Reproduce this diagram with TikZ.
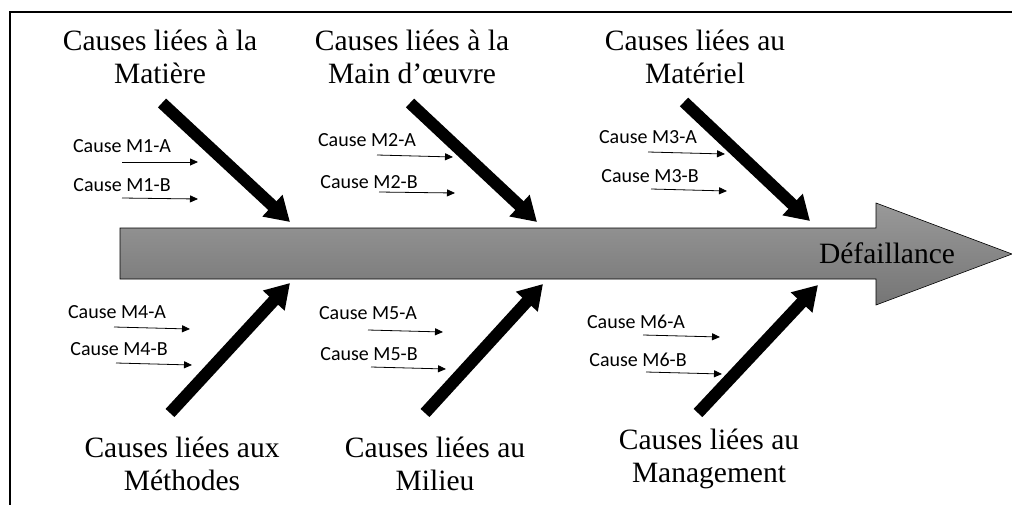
\documentclass[tikz,border=0pt]{standalone}
\usepackage{fontspec}
\newfontfamily\causefont{Carlito}
\newfontfamily\titrefont{Liberation Serif}
\usetikzlibrary{arrows.meta,positioning}

\begin{document}
\begin{tikzpicture}[x=1pt, y=-1pt,
    titre/.style={align=center, inner sep=0pt, font=\titrefont\fontsize{29.5}{33}\selectfont},
    cause/.style={inner sep=0pt, font=\causefont\fontsize{20}{24}\selectfont},
    fleche/.style={line width=12pt, -{Triangle[length=24pt,width=28pt]}},
    petite/.style={line width=0.8pt, -{Triangle[length=8pt,width=7pt]}}]
                        \useasboundingbox (0,0) rectangle (1012,504);
                        \draw[line width=2pt] (10,510) -- (10,12) -- (1020,12);

                        % arete centrale
                        \path[draw=black, line width=0.6pt, top color=black!40, bottom color=black!54]
                        (120,228) -- (876,228) -- (876,203) -- (1012,254) -- (876,305) -- (876,279) -- (120,279) -- cycle;
                        \node[titre] (def) at (887,253) {Défaillance};

                        \node[titre] (t1) at (160,57) {Causes liées à la\\Matière};
                        \node[titre] (t2) at (412,57) {Causes liées à la\\Main d’œuvre};
                        \node[titre] (t3) at (695,57) {Causes liées au\\Matériel};
                        \node[titre] (t4) at (182,464) {Causes liées aux\\Méthodes};
                        \node[titre] (t5) at (435,464) {Causes liées au\\Milieu};
                        \node[titre] (t6) at (709,459) {Causes liées au\\Management};

                        \coordinate (s1) at (162,103);  \coordinate (e1) at (290,222);
                        \coordinate (s2) at (410,103);  \coordinate (e2) at (537,222);
                        \coordinate (s3) at (684,102);  \coordinate (e3) at (810,221);
                        \coordinate (s4) at (170,413);  \coordinate (e4) at (290,283);
                        \coordinate (s5) at (425,413);  \coordinate (e5) at (543,284);
                        \coordinate (s6) at (698,413);  \coordinate (e6) at (818,285);

                        \node[cause] (c1a) at (122,146) {Cause M1-A};
                        \node[cause] (c1b) at (122,185) {Cause M1-B};
                        \node[cause] (c2a) at (367,140) {Cause M2-A};
                        \node[cause] (c2b) at (369,182) {Cause M2-B};
                        \node[cause] (c3a) at (648,137) {Cause M3-A};
                        \node[cause] (c3b) at (650,176) {Cause M3-B};
                        \node[cause] (c4a) at (117,312) {Cause M4-A};
                        \node[cause] (c4b) at (119,349) {Cause M4-B};
                        \node[cause] (c5a) at (368,313) {Cause M5-A};
                        \node[cause] (c5b) at (369,354) {Cause M5-B};
                        \node[cause] (c6a) at (636,322) {Cause M6-A};
                        \node[cause] (c6b) at (638,360) {Cause M6-B};

                        \coordinate (p1a) at (122,162);  \coordinate (q1a) at (198,162);
                        \coordinate (p1b) at (122,198);  \coordinate (q1b) at (198,199);
                        \coordinate (p2a) at (377,155);  \coordinate (q2a) at (453,157);
                        \coordinate (p2b) at (379,192);  \coordinate (q2b) at (455,193);
                        \coordinate (p3a) at (648,152);  \coordinate (q3a) at (725,154);
                        \coordinate (p3b) at (651,189);  \coordinate (q3b) at (727,191);
                        \coordinate (p4a) at (114,327);  \coordinate (q4a) at (190,329);
                        \coordinate (p4b) at (116,363);  \coordinate (q4b) at (192,365);
                        \coordinate (p5a) at (368,330);  \coordinate (q5a) at (443,332);
                        \coordinate (p5b) at (371,367);  \coordinate (q5b) at (446,369);
                        \coordinate (p6a) at (643,335);  \coordinate (q6a) at (720,337);
                        \coordinate (p6b) at (646,372);  \coordinate (q6b) at (722,374);

                        \draw
                        (s1) edge[fleche] (e1)
                        (s2) edge[fleche] (e2)
                        (s3) edge[fleche] (e3)
                        (s4) edge[fleche] (e4)
                        (s5) edge[fleche] (e5)
                        (s6) edge[fleche] (e6);

                        \draw
                        (p1a) edge[petite] (q1a)
                        (p1b) edge[petite] (q1b)
                        (p2a) edge[petite] (q2a)
                        (p2b) edge[petite] (q2b)
                        (p3a) edge[petite] (q3a)
                        (p3b) edge[petite] (q3b)
                        (p4a) edge[petite] (q4a)
                        (p4b) edge[petite] (q4b)
                        (p5a) edge[petite] (q5a)
                        (p5b) edge[petite] (q5b)
                        (p6a) edge[petite] (q6a)
                        (p6b) edge[petite] (q6b);
                    \end{tikzpicture}
\end{document}
